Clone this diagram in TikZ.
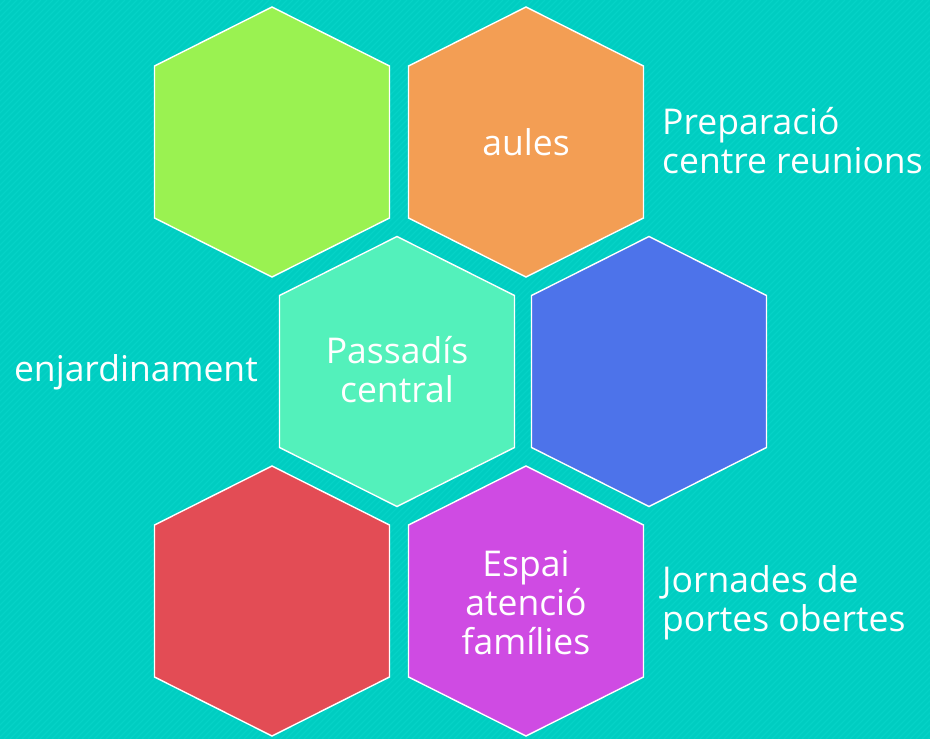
\documentclass[tikz,border=0pt]{standalone}
\usepackage{fontspec}
\setmainfont{Open Sans}
\definecolor{bgteal}{HTML}{00CDC1}
\definecolor{stripe}{HTML}{06D3C7}
\definecolor{hgreen}{HTML}{9AF251}
\definecolor{horange}{HTML}{F39E54}
\definecolor{hmint}{HTML}{53F1BB}
\definecolor{hblue}{HTML}{4D73EA}
\definecolor{hred}{HTML}{E34C55}
\definecolor{hpurple}{HTML}{CF4BE3}
\tikzset{
  hexbox/.style={draw=white, line width=1.4pt, line join=miter},
  hextext/.style={text=white, align=center, inner sep=0pt, font=\fontsize{35.5}{39}\selectfont},
  sidetext/.style={text=white, align=left, inner sep=0pt, font=\fontsize{35.5}{39}\selectfont},
}
\newcommand\myhex[3]{%
  \path[hexbox, fill=#3] (#1,#2) ++(0,-135) -- ++(117.5,59) -- ++(0,152) -- ++(-117.5,59) -- ++(-117.5,-59) -- ++(0,-152) -- cycle;}
\begin{document}
\begin{tikzpicture}[x=1pt,y=-1pt]
\useasboundingbox (0,0) rectangle (930,739);
\fill[bgteal] (0,0) rectangle (930,739);
\begin{scope}
\clip (0,0) rectangle (930,739);
\foreach \k in {-800,-794,...,940} {
  \draw[stripe, line width=1.2pt] (\k,739) -- (\k+739,0);
}
\end{scope}
\myhex{272}{142}{hgreen}
\myhex{526}{142}{horange}
\myhex{397}{371.5}{hmint}
\myhex{649}{371.5}{hblue}
\myhex{272}{601}{hred}
\myhex{526}{601}{hpurple}
\node[hextext] (aules) at (526,142) {aules};
\node[hextext] (passadis) at (397,370) {Passadís\\central};
\node[hextext] (espai) at (526,603) {Espai\\atenció\\famílies};
\node[sidetext, anchor=west] (prep) at (662,141) {Preparació\\centre reunions};
\node[sidetext, anchor=east] (enjard) at (258,372) {enjardinament};
\node[sidetext, anchor=west] (jorn) at (662,603) {Jornades de\\portes obertes};
\end{tikzpicture}
\end{document}
